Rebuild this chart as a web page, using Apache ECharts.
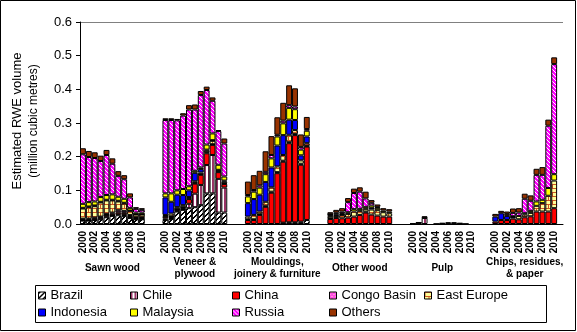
<!DOCTYPE html>
<html><head><meta charset="utf-8">
<script src="https://cdn.jsdelivr.net/npm/echarts@6/dist/echarts.min.js"></script>
<style>html,body{margin:0;padding:0;background:#fff}#c{width:577px;height:332px}</style>
</head><body><div id="c"></div>
<script>
const years = ['2000','2001','2002','2003','2004','2005','2006','2007','2008','2009','2010'];
const yearTickLabels = ['2000','2002','2004','2006','2008','2010'];
const groupNames = ['Sawn wood','Veneer &\nplywood','Mouldings,\njoinery & furniture','Other wood','Pulp','Chips, residues,\n& paper'];
const yTicks = [0,0.1,0.2,0.3,0.4,0.5,0.6];
const seriesNames = ['Brazil','Chile','China','Congo Basin','East Europe','Indonesia','Malaysia','Russia','Others'];
const Z = [0,0,0,0,0,0,0,0,0,0,0];

// million cubic metres, one row per product group, one value per year 2000-2010
const brazil = [
 [0.010,0.010,0.012,0.014,0.020,0.024,0.026,0.024,0.018,0.014,0.014],
 [0.012,0.015,0.037,0.042,0.047,0.050,0.056,0.091,0.091,0.034,0.034],
 [0,0,0,0,0,0,0.002,0.002,0.002,0.004,0.012],
 Z, Z, Z];
const chile = [
 [0.001,0.001,0.001,0.002,0.002,0.002,0.003,0.003,0.002,0.001,0.001],
 [0.005,0.003,0.002,0.002,0.013,0.040,0.060,0.084,0.114,0.100,0.074],
 [0,0,0,0,0,0,0.002,0.003,0.003,0.003,0],
 Z,
 [0,0.001,0.018,0,0,0,0,0,0,0,0],
 Z];
const china = [
 [0.003,0.003,0.004,0.004,0.005,0.005,0.006,0.006,0.004,0.003,0.003],
 [0.005,0.003,0.004,0.004,0.014,0.030,0.030,0.035,0.030,0.020,0.011],
 [0.012,0.012,0.027,0.051,0.093,0.151,0.181,0.235,0.259,0.169,0.218],
 [0.015,0.018,0.017,0.019,0.022,0.027,0.034,0.028,0.025,0.022,0.022],
 [0.001,0.003,0.001,0,0,0.001,0.002,0.002,0.001,0,0],
 [0.007,0.012,0.012,0.016,0.014,0.020,0.023,0.037,0.037,0.037,0.047]];
const congoBasin = [
 [0.002,0.002,0.002,0.002,0.003,0.003,0.006,0.006,0.003,0.002,0.002],
 [0.002,0.002,0.001,0.002,0.002,0.002,0.002,0.003,0.002,0.002,0.002],
 [0.002,0.002,0.002,0.003,0.003,0.003,0.003,0.003,0.003,0.003,0.002],
 [0.002,0,0,0,0,0,0.003,0,0,0,0],
 Z, Z];
const eastEurope = [
 [0.030,0.034,0.034,0.042,0.040,0.036,0.026,0.022,0.012,0.008,0.008],
 [0.003,0.008,0.006,0.006,0.004,0.005,0.005,0.005,0.010,0.003,0.005],
 [0.008,0.013,0.008,0.012,0.013,0.017,0.017,0.022,0.012,0.010,0.008],
 [0.006,0.006,0.010,0.011,0.015,0.012,0.008,0.015,0.016,0.013,0.010],
 Z,
 [0,0,0,0,0.010,0.008,0.010,0.017,0.025,0.047,0.082]];
const indonesia = [
 [0.002,0.002,0.002,0.002,0.002,0.002,0.002,0.002,0.001,0.001,0.001],
 [0.052,0.035,0.037,0.030,0.020,0.025,0.010,0.003,0.002,0.002,0.003],
 [0.040,0.047,0.050,0.059,0.059,0.062,0.059,0.045,0.030,0.015,0.020],
 [0.002,0.004,0.002,0,0,0,0,0.005,0,0,0],
 Z,
 [0.015,0.020,0.012,0.005,0,0,0,0,0,0,0]];
const malaysia = [
 [0.012,0.013,0.012,0.014,0.014,0.016,0.012,0.012,0.008,0.005,0.005],
 [0.012,0.025,0.013,0.018,0.012,0.006,0.005,0.015,0.020,0.015,0.012],
 [0.020,0.022,0.021,0.023,0.027,0.027,0.035,0.035,0.032,0.017,0.017],
 [0.003,0.003,0.003,0.005,0.007,0.006,0.006,0.007,0.007,0.005,0.005],
 Z,
 [0,0,0,0.002,0,0.004,0.006,0.013,0.010,0.023,0.019]];
const russia = [
 [0.147,0.134,0.129,0.107,0.119,0.091,0.062,0.058,0.031,0.011,0.008],
 [0.218,0.218,0.208,0.218,0.228,0.182,0.215,0.162,0.097,0.100,0.098],
 [0.004,0.005,0.007,0.007,0.010,0.005,0.008,0.008,0.008,0.008,0.005],
 [0.001,0.003,0.005,0.030,0.048,0.051,0.025,0.008,0.003,0,0],
 Z,
 [0,0,0.006,0.010,0.010,0.043,0.030,0.079,0.074,0.185,0.327]];
const others = [
 [0.018,0.018,0.017,0.016,0.015,0.016,0.014,0.012,0.012,0.005,0.005],
 [0.005,0.005,0.004,0.007,0.013,0.015,0.012,0.010,0.010,0.003,0.015],
 [0.040,0.044,0.043,0.061,0.056,0.052,0.053,0.059,0.054,0.037,0.036],
 [0.006,0.008,0.010,0.012,0.013,0.013,0.020,0.008,0.007,0.007,0.007],
 [0.001,0.001,0.004,0,0.001,0.002,0.003,0.003,0.002,0.001,0],
 [0.008,0.007,0.007,0.013,0.013,0.015,0.016,0.018,0.023,0.018,0.020]];

const seriesValues = [brazil, chile, china, congoBasin, eastEurope, indonesia, malaysia, russia, others];

// ---------- fill patterns ----------
function pattern(w, h, fn) {
  const c = document.createElement('canvas');
  c.width = w; c.height = h;
  const ctx = c.getContext('2d');
  for (let x = 0; x < w; x++) for (let y = 0; y < h; y++) {
    ctx.fillStyle = fn(x, y); ctx.fillRect(x, y, 1, 1);
  }
  return { image: c, repeat: 'repeat' };
}
const fills = [
  pattern(5, 5, (x, y) => ((x + y) % 5 < 2) ? '#000000' : '#ffffff'),                 // Brazil
  pattern(4, 1, (x) => x < 2 ? '#993366' : '#ffffff'),                                // Chile
  '#ff0000',                                                                           // China
  pattern(4, 4, (x, y) => (((x + y) % 4 === 0) || ((x - y + 4) % 4 === 0)) ? '#ff00ff' : '#ff99cc'), // Congo
  pattern(8, 8, (x, y) => (y % 4 === 0 || (y < 4 ? x === 0 : x === 4)) ? '#cc5522' : '#ffff99'),   // East Europe
  '#0000ff',                                                                           // Indonesia
  '#ffff00',                                                                           // Malaysia
  pattern(4, 4, (x, y) => ((x - y + 8) % 4 < 3) ? '#ff00ff' : '#ffffff'),             // Russia
  '#993300'                                                                            // Others
];

// ---------- categories ----------
const cats = [];
groupNames.forEach((g, gi) => {
  years.forEach(y => cats.push(gi + '|' + y));
  const blanks = gi < groupNames.length - 1 ? 3 : 1;
  for (let b = 0; b < blanks; b++) cats.push(gi + '|b' + b);
});

function buildData(arr) {
  const out = [];
  arr.forEach((row, gi) => {
    row.forEach(v => out.push(v === 0 ? '-' : v));
    const blanks = gi < groupNames.length - 1 ? 3 : 1;
    for (let b = 0; b < blanks; b++) out.push('-');
  });
  return out;
}

const FONT = '"Liberation Sans", Arial, sans-serif';
const series = seriesNames.map((n, i) => ({
  name: n, type: 'bar', stack: 'all', barCategoryGap: '0%',
  data: buildData(seriesValues[i]),
  itemStyle: { color: fills[i], borderColor: '#000', borderWidth: 1 },
  emphasis: { disabled: true }
}));

const legendPos = [
  [38, 289], [130, 289], [232, 289], [329, 289], [424, 289],
  [38, 306], [130, 306], [232, 306], [329, 306]
];
const legends = seriesNames.map((n, i) => ({
  data: [n], left: legendPos[i][0], top: legendPos[i][1], padding: 0,
  itemWidth: 7, itemHeight: 7, icon: 'rect', selectedMode: false,
  itemStyle: { borderColor: '#000', borderWidth: 1 },
  textStyle: { fontSize: 13, color: '#000', fontFamily: FONT }
}));

const splitColors = yTicks.map((t, i) => i === yTicks.length - 1 ? '#808080' : 'rgba(0,0,0,0)');

const chart = echarts.init(document.getElementById('c'), null, { renderer: 'canvas' });
chart.setOption({
  animation: false,
  textStyle: { fontFamily: FONT },
  grid: { left: 80, right: 14, top: 22, bottom: 108, outerBoundsMode: 'none' },
  xAxis: {
    type: 'category', data: cats,
    axisLine: { lineStyle: { color: '#000', width: 1 } },
    axisTick: { interval: 0, length: 4, lineStyle: { color: '#000' } },
    axisLabel: {
      interval: (idx, val) => yearTickLabels.includes(String(val).split('|')[1]),
      formatter: v => { const y = String(v).split('|')[1]; return y.startsWith('b') ? '' : y; },
      rotate: 90, fontSize: 10, fontWeight: 'bold', color: '#000', margin: 7, fontFamily: FONT
    }
  },
  yAxis: {
    type: 'value', min: 0, max: 0.6, interval: 0.1,
    axisLine: { show: true, lineStyle: { color: '#000' } },
    axisTick: { show: true, length: 4, lineStyle: { color: '#000' } },
    axisLabel: { formatter: v => v.toFixed(1), fontSize: 13, color: '#000', margin: 8, fontFamily: FONT },
    splitLine: { show: true, lineStyle: { color: splitColors, width: 1 } }
  },
  legend: legends,
  series: series
});

// group labels centred under each group, plus frame, legend box and axis title
const graphics = [
  { type: 'rect', shape: { x: 0.5, y: 0.5, width: 575, height: 330 }, style: { fill: null, stroke: '#000', lineWidth: 1 }, silent: true },
  { type: 'rect', shape: { x: 35.5, y: 285.5, width: 511, height: 37 }, style: { fill: null, stroke: '#000', lineWidth: 1 }, silent: true },
  { type: 'text', x: 17, y: 121, rotation: Math.PI / 2, style: { text: 'Estimated RWE volume', fontSize: 13, fontFamily: FONT, fill: '#000', align: 'center', verticalAlign: 'middle' } },
  { type: 'text', x: 34, y: 121, rotation: Math.PI / 2, style: { text: '(million cubic metres)', fontSize: 12, fontFamily: FONT, fill: '#000', align: 'center', verticalAlign: 'middle' } }
];
groupNames.forEach((g, gi) => {
  const i0 = cats.indexOf(gi + '|' + years[0]);
  const i1 = cats.indexOf(gi + '|' + years[years.length - 1]);
  const x0 = chart.convertToPixel({ xAxisIndex: 0 }, i0);
  const x1 = chart.convertToPixel({ xAxisIndex: 0 }, i1);
  graphics.push({
    type: 'text', x: (x0 + x1) / 2, y: 268,
    style: { text: g, fontSize: 10, fontWeight: 'bold', fontFamily: FONT, fill: '#000', align: 'center', verticalAlign: 'middle', lineHeight: 12 }
  });
});
chart.setOption({ graphic: graphics });
</script>
</body></html>
